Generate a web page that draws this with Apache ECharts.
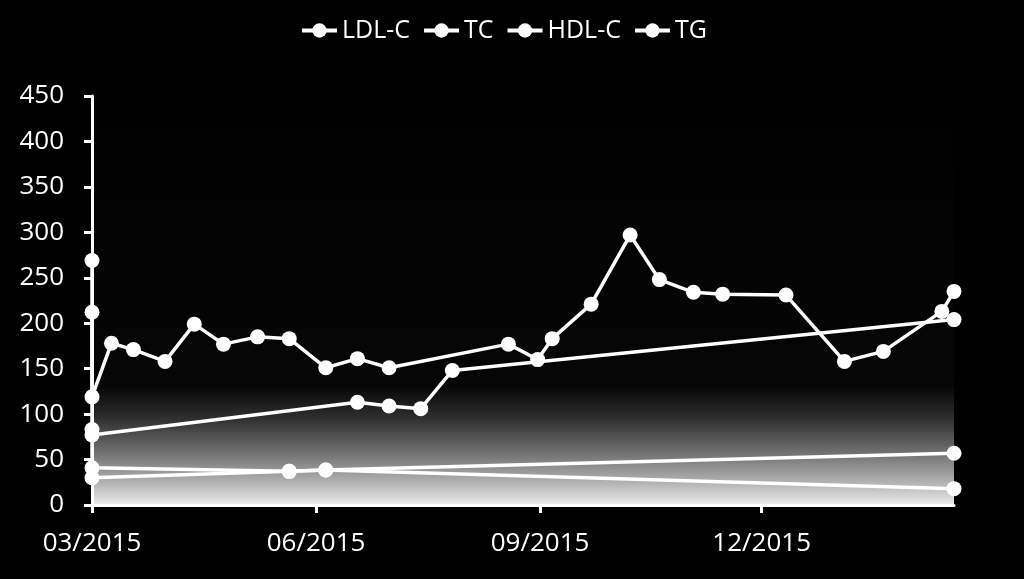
<!DOCTYPE html>
<html>
<head>
<meta charset="utf-8">
<script src="https://cdn.jsdelivr.net/npm/echarts@6/dist/echarts.min.js"></script>
<style>
  html, body { margin: 0; padding: 0; background: #000; }
  #chart { width: 1024px; height: 579px; }
</style>
</head>
<body>
<div id="chart"></div>
<script>
// ---- data ----
const seriesNames = ['LDL-C', 'TC', 'HDL-C', 'TG'];

const ldlDates  = ['2015-03-01','2015-03-01','2015-06-18','2015-07-01','2015-07-14','2015-07-27','2016-02-18'];
const ldlValues = [212, 77, 113, 109, 106, 148, 204];

const tcDates  = ['2015-03-01','2015-03-01','2015-03-09','2015-03-18','2015-03-31','2015-04-12','2015-04-24',
                  '2015-05-08','2015-05-21','2015-06-05','2015-06-18','2015-07-01','2015-08-19','2015-08-31',
                  '2015-09-06','2015-09-22','2015-10-08','2015-10-20','2015-11-03','2015-11-15','2015-12-11',
                  '2016-01-04','2016-01-20','2016-02-13','2016-02-18'];
const tcValues = [269, 119, 178, 171, 158, 199, 177,
                  185, 183, 151, 161, 151, 177, 160,
                  183, 221, 297, 248, 234, 232, 231,
                  158, 169, 213, 235];

const hdlDates  = ['2015-03-01','2015-05-21','2015-06-05','2016-02-18'];
const hdlValues = [41, 37, 38.5, 18];

const tgDates  = ['2015-03-01','2015-03-01','2015-05-21','2015-06-05','2016-02-18'];
const tgValues = [83, 30, 37, 38.5, 57];

const xMinDate = '2015-03-01';
const xMaxDate = '2016-02-18';
const xTickDates = ['2015-03-01','2015-06-01','2015-09-01','2015-12-01'];

const yMin = 0, yMax = 450, yStep = 50;

// ---- helpers ----
function ts(s) {
  const p = s.split('-').map(Number);
  return new Date(p[0], p[1] - 1, p[2]).getTime();
}
function pairs(dates, values) {
  return dates.map((d, i) => [ts(d), values[i]]);
}
function fmtMonth(v) {
  const d = new Date(v);
  const m = d.getMonth() + 1;
  return (m < 10 ? '0' + m : '' + m) + '/' + d.getFullYear();
}

const FONT = '"Open Sans", sans-serif';
const white = '#ffffff';

function makeSeries(name, dates, values) {
  return {
    name: name,
    type: 'line',
    data: pairs(dates, values),
    symbol: 'circle',
    symbolSize: 15,
    showSymbol: true,
    lineStyle: { color: white, width: 3.5 },
    itemStyle: { color: white, borderWidth: 0 },
    emphasis: { disabled: true },
    z: 3
  };
}

const chart = echarts.init(document.getElementById('chart'), null, { renderer: 'canvas' });
chart.setOption({
  backgroundColor: '#000000',
  animation: false,
  color: [white, white, white, white],
  legend: {
    top: 13,
    left: 295,
    itemWidth: 35,
    itemHeight: 18,
    itemGap: 12,
    lineStyle: { width: 4, color: white },
    itemStyle: { color: white, borderWidth: 0 },
    textStyle: { color: white, fontSize: 25, fontFamily: FONT },
    data: seriesNames
  },
  grid: {
    left: 92,
    right: 70,
    top: 96,
    bottom: 74,
    show: true,
    borderWidth: 0,
    backgroundColor: new echarts.graphic.LinearGradient(0, 0, 0, 1, [
      { offset: 0, color: '#000000' },
      { offset: 0.71, color: '#060606' },
      { offset: 0.79, color: '#303030' },
      { offset: 0.88, color: '#777777' },
      { offset: 0.94, color: '#adadad' },
      { offset: 1, color: '#ececec' }
    ])
  },
  xAxis: {
    type: 'value',
    min: ts(xMinDate),
    max: ts(xMaxDate),
    axisLine: { show: true, lineStyle: { color: white, width: 3 } },
    axisTick: {
      show: true, inside: false, length: 8,
      lineStyle: { color: white, width: 3 },
      customValues: xTickDates.map(ts)
    },
    axisLabel: {
      color: white, fontSize: 26, fontFamily: FONT, margin: 26,
      customValues: xTickDates.map(ts),
      showMinLabel: true, showMaxLabel: true, hideOverlap: false,
      formatter: function (v) { return fmtMonth(v); }
    },
    splitLine: { show: false }
  },
  yAxis: {
    type: 'value',
    min: yMin,
    max: yMax,
    interval: yStep,
    axisLine: { show: true, lineStyle: { color: white, width: 3 } },
    axisTick: { show: true, inside: false, length: 8, lineStyle: { color: white, width: 3 } },
    axisLabel: { color: white, fontSize: 26, fontFamily: FONT, margin: 28 },
    splitLine: { show: false }
  },
  series: [
    makeSeries('LDL-C', ldlDates, ldlValues),
    makeSeries('TC', tcDates, tcValues),
    makeSeries('HDL-C', hdlDates, hdlValues),
    makeSeries('TG', tgDates, tgValues)
  ]
});
</script>
</body>
</html>
